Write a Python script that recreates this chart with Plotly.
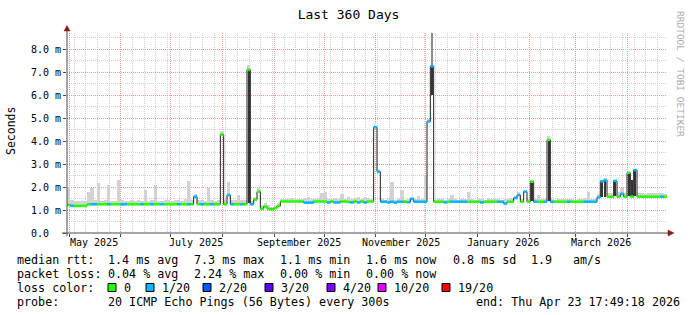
import numpy as np
import pandas as pd
import plotly.graph_objects as go

# ---------------- data ----------------
START = pd.Timestamp("2025-04-29 15:00")
END = pd.Timestamp("2026-04-24 15:00")
N_BINS = 180          # 2-day bins
BIN_DAYS = 2

# median round-trip time per bin (ms)
median_ms = [
    1.22, 1.18, 1.18, 1.18, 1.18, 1.18, 1.25, 1.25, 1.25, 1.25,
    1.25, 1.25, 1.25, 1.25, 1.25, 1.25, 1.25, 1.25, 1.25, 1.25,
    1.25, 1.25, 1.25, 1.25, 1.25, 1.25, 1.25, 1.25, 1.25, 1.25,
    1.25, 1.25, 1.25, 1.25, 1.25, 1.25, 1.25, 1.25, 1.58, 1.25,
    1.25, 1.25, 1.25, 1.25, 1.25, 1.25, 4.28, 1.25, 1.65, 1.25,
    1.25, 1.25, 1.25, 1.25, 7.10, 1.25, 1.45, 1.80, 1.05, 1.15,
    1.05, 1.03, 1.08, 1.17, 1.37, 1.37, 1.37, 1.37, 1.37, 1.37,
    1.37, 1.32, 1.32, 1.32, 1.37, 1.37, 1.37, 1.37, 1.33, 1.37,
    1.33, 1.33, 1.37, 1.37, 1.35, 1.33, 1.37, 1.33, 1.37, 1.33,
    1.37, 1.37, 4.60, 2.67, 1.36, 1.36, 1.33, 1.36, 1.32, 1.36,
    1.36, 1.36, 1.34, 1.48, 1.36, 1.36, 1.36, 1.36, 4.85, 7.25,
    1.36, 1.36, 1.36, 1.33, 1.36, 1.36, 1.36, 1.36, 1.36, 1.36,
    1.36, 1.36, 1.36, 1.36, 1.33, 1.36, 1.36, 1.36, 1.36, 1.36,
    1.36, 1.28, 1.36, 1.36, 1.52, 1.65, 1.36, 1.80, 1.36, 2.23,
    1.36, 1.36, 1.36, 1.36, 4.05, 1.36, 1.36, 1.36, 1.36, 1.36,
    1.36, 1.36, 1.36, 1.36, 1.36, 1.36, 1.36, 1.36, 1.36, 1.55,
    2.25, 2.30, 1.58, 1.58, 2.27, 1.58, 1.70, 1.58, 2.62, 1.58,
    2.74, 1.58, 1.58, 1.58, 1.58, 1.58, 1.58, 1.58, 1.58, 1.58,
]

# lost pings (of 20) per bin
loss_pings = [
    0, 1, 0, 0, 0, 0, 0, 1, 1, 0,
    0, 0, 1, 0, 0, 0, 1, 1, 0, 0,
    0, 0, 1, 0, 0, 1, 0, 0, 1, 0,
    0, 0, 0, 1, 0, 0, 1, 0, 1, 0,
    1, 0, 0, 1, 0, 0, 0, 0, 1, 1,
    0, 0, 1, 0, 0, 1, 0, 0, 0, 0,
    0, 0, 0, 0, 0, 0, 0, 0, 0, 0,
    0, 1, 1, 1, 0, 0, 0, 0, 1, 0,
    1, 1, 0, 0, 0, 1, 0, 1, 0, 1,
    0, 0, 1, 1, 1, 1, 1, 1, 1, 1,
    1, 0, 1, 1, 1, 1, 1, 1, 1, 1,
    0, 0, 0, 1, 0, 1, 1, 1, 1, 1,
    0, 0, 0, 0, 1, 0, 0, 0, 0, 1,
    1, 1, 0, 0, 1, 1, 0, 1, 0, 0,
    1, 0, 0, 1, 0, 1, 0, 0, 0, 0,
    1, 0, 0, 0, 0, 1, 1, 1, 1, 1,
    1, 1, 0, 0, 1, 0, 1, 0, 0, 0,
    1, 0, 0, 0, 0, 0, 0, 0, 1, 0,
]

# top of the grey "smoke" per bin (ms)
smoke_top_ms = [
    2.00, 1.45, 1.38, 1.38, 1.40, 1.38, 1.80, 1.95, 1.42, 2.17,
    1.40, 1.42, 2.10, 1.40, 1.38, 2.30, 1.42, 1.40, 1.38, 1.42,
    1.40, 1.45, 1.40, 1.87, 1.40, 1.42, 2.10, 1.40, 1.38, 1.45,
    1.42, 1.40, 1.45, 1.42, 1.40, 1.50, 2.26, 1.42, 1.70, 1.45,
    1.42, 1.40, 1.95, 1.45, 1.40, 1.42, 4.45, 1.45, 2.20, 1.45,
    1.42, 1.65, 1.45, 1.42, 7.30, 1.40, 1.55, 1.95, 1.20, 1.30,
    1.20, 1.15, 1.20, 1.30, 1.48, 1.50, 1.48, 1.52, 1.48, 1.50,
    1.48, 1.52, 1.55, 1.48, 1.50, 1.52, 1.75, 1.80, 1.50, 1.48,
    1.52, 1.50, 1.70, 1.48, 1.55, 1.50, 1.52, 1.57, 1.50, 1.55,
    1.52, 1.50, 4.70, 2.75, 1.48, 1.45, 1.50, 2.23, 1.45, 1.48,
    1.87, 1.45, 1.48, 1.55, 1.48, 1.60, 1.50, 2.50, 4.95, 7.30,
    1.45, 1.48, 1.50, 1.45, 1.48, 1.65, 1.48, 1.45, 1.50, 1.48,
    1.80, 1.48, 1.45, 1.50, 1.48, 1.45, 1.52, 1.48, 1.50, 1.48,
    1.45, 1.48, 1.50, 1.52, 1.60, 1.80, 1.50, 1.85, 1.48, 2.30,
    1.50, 1.65, 1.48, 1.50, 4.20, 1.48, 1.45, 1.50, 1.48, 1.50,
    1.48, 1.50, 1.45, 1.48, 1.50, 1.52, 1.80, 1.50, 1.48, 1.70,
    2.30, 2.40, 1.72, 1.75, 2.30, 1.80, 1.95, 1.72, 2.65, 1.75,
    2.80, 1.72, 1.75, 1.70, 1.72, 1.75, 1.72, 1.74, 1.72, 1.70,
]

# dense (dark) smoke at the spikes
dense_bins = [54, 109, 139, 144, 160, 161, 164, 168, 169, 170]
dense_lo_ms = [1.30, 6.00, 1.40, 1.40, 1.58, 1.58, 1.60, 1.60, 1.60, 1.60]
dense_hi_ms = [7.10, 7.30, 2.23, 4.05, 2.25, 2.30, 2.27, 2.62, 2.30, 2.74]

# medium-grey smoke above the largest spike
mid_bins = [109]
mid_lo_ms = [7.30]
mid_hi_ms = [8.70]

loss_thresholds = [0, 1, 2, 3, 4, 10, 19]
loss_labels = ["0", "1/20", "2/20", "3/20", "4/20", "10/20", "19/20"]
loss_colors = ["#26ff00", "#00b8ff", "#0059ff", "#5e00ff", "#7e00ff", "#dd00ff", "#ff0000"]

month_grid = pd.date_range("2025-05-01", "2026-04-01", freq="MS")
week_tick0 = "2025-05-04"
label_dates = ["2025-05-16", "2025-07-16", "2025-09-16", "2025-11-16", "2026-01-16", "2026-03-16"]
label_texts = ["May 2025", "July 2025", "September 2025", "November 2025", "January 2026", "March 2026"]

y_tickvals = [0, 1, 2, 3, 4, 5, 6, 7, 8]
y_ticktext = ["0.0\u00a0\u00a0", "1.0 m", "2.0 m", "3.0 m", "4.0 m", "5.0 m", "6.0 m", "7.0 m", "8.0 m"]
Y_MAX = 8.7

rtt_row = ["median rtt:", "1.4 ms avg", "7.3 ms max", "1.1 ms min", "1.6 ms now", "0.8 ms sd", "1.9", "am/s"]
loss_row = ["packet loss:", "0.04 % avg", "2.24 % max", "0.00 % min", "0.00 % now"]
probe_row = ["probe:", "20 ICMP Echo Pings (56 Bytes) every 300s", "end: Thu Apr 23 17:49:18 2026"]

# ---------------- layout helpers ----------------
FIG_W, FIG_H = 697, 315
L, T, W, H = 67, 33, 600, 200
MONO = "DejaVu Sans Mono"
DAY_MS = 86400000


def px(xp):
    return (xp - L) / W


def py(yp):
    return (T + H - yp) / H


bin_edges = pd.date_range(START, periods=N_BINS + 1, freq=f"{BIN_DAYS}D")
centers = bin_edges[:-1] + pd.Timedelta(days=BIN_DAYS / 2)
med = np.array(median_ms)
smoke_h = np.clip(np.array(smoke_top_ms) - med, 0, None)

fig = go.Figure()

# smoke
fig.add_trace(go.Bar(
    x=centers, y=smoke_h, base=med, width=BIN_DAYS * DAY_MS,
    marker=dict(color="#d2d2d2", line=dict(width=0)),
    hoverinfo="skip", showlegend=False))

m_lo = np.array(mid_lo_ms)
m_hi = np.array(mid_hi_ms)
fig.add_trace(go.Bar(
    x=centers[mid_bins], y=m_hi - m_lo, base=m_lo, width=1.2 * DAY_MS,
    marker=dict(color="#8c8c8c", line=dict(width=0)),
    hoverinfo="skip", showlegend=False))

d_lo = np.array(dense_lo_ms)
d_hi = np.array(dense_hi_ms)
fig.add_trace(go.Bar(
    x=centers[dense_bins], y=d_hi - d_lo, base=d_lo, width=1.2 * DAY_MS,
    marker=dict(color="#353535", line=dict(width=0)),
    hoverinfo="skip", showlegend=False))

# black median line
fig.add_trace(go.Scatter(
    x=list(bin_edges), y=median_ms + [median_ms[-1]], mode="lines",
    line=dict(color="#202020", width=1, shape="hv"),
    hoverinfo="skip", showlegend=False))


def loss_class(n):
    k = 0
    for i, t in enumerate(loss_thresholds):
        if n >= t:
            k = i
    return k


classes = [loss_class(n) for n in loss_pings]
for k, col in enumerate(loss_colors):
    xs, ys = [], []
    for i, c in enumerate(classes):
        if c == k:
            xs += [bin_edges[i], bin_edges[i + 1], None]
            ys += [median_ms[i], median_ms[i], None]
    if xs:
        fig.add_trace(go.Scatter(
            x=xs, y=ys, mode="lines", line=dict(color=col, width=2.6),
            hoverinfo="skip", showlegend=False))

GRID = "#cfcfcf"
MGRID = "#e99a9a"
AXIS = "#4a4a4a"
ARROW = "#8b1a1a"

fig.update_layout(
    width=FIG_W, height=FIG_H,
    margin=dict(l=L, r=FIG_W - L - W, t=T, b=FIG_H - T - H, pad=0),
    paper_bgcolor="white", plot_bgcolor="white",
    barmode="overlay", bargap=0,
    showlegend=False,
    title=dict(text="Last 360 Days", x=0.5, xref="container", xanchor="center",
               y=1 - 14 / FIG_H, yref="container", yanchor="middle",
               font=dict(family=MONO, size=13, color="#000")),
    xaxis=dict(
        type="date", range=[START, END],
        tickvals=list(month_grid), showticklabels=False,
        ticks="outside", ticklen=3, tickcolor=AXIS,
        showgrid=True, gridcolor=MGRID, griddash="1px,1px", gridwidth=1,
        minor=dict(dtick=7 * DAY_MS, tick0=week_tick0, showgrid=True,
                   gridcolor=GRID, griddash="1px,1px", gridwidth=1),
        showline=False, zeroline=False, fixedrange=True),
    yaxis=dict(
        range=[0, Y_MAX], tickvals=y_tickvals, ticktext=y_ticktext,
        ticks="outside", ticklen=3, tickcolor=AXIS,
        tickfont=dict(family=MONO, size=10, color="#000"),
        showgrid=True, gridcolor=MGRID, griddash="1px,1px", gridwidth=1,
        minor=dict(dtick=0.5, tick0=0, showgrid=True, gridcolor=GRID,
                   griddash="1px,1px", gridwidth=1),
        showline=False, zeroline=False, fixedrange=True),
)

shapes = [
    # axes
    dict(type="line", xref="paper", yref="paper", x0=px(62), x1=px(669), y0=py(233), y1=py(233),
         line=dict(color=AXIS, width=1), layer="above"),
    dict(type="line", xref="paper", yref="paper", x0=px(67), x1=px(67), y0=py(236), y1=py(30),
         line=dict(color=AXIS, width=1), layer="above"),
    # arrows
    dict(type="path", xref="paper", yref="paper",
         path=f"M {px(64)},{py(31)} L {px(70)},{py(31)} L {px(67)},{py(25.5)} Z",
         fillcolor=ARROW, line=dict(color=ARROW, width=0.5), layer="above"),
    dict(type="path", xref="paper", yref="paper",
         path=f"M {px(668)},{py(230)} L {px(668)},{py(236)} L {px(674)},{py(233)} Z",
         fillcolor=ARROW, line=dict(color=ARROW, width=0.5), layer="above"),
]

annotations = []


def txt(x, y, s, size=11.7, anchor="left", color="#000", angle=0, xref="paper"):
    annotations.append(dict(
        x=x, y=y, xref=xref, yref="paper", text=s.replace(" ", "\u00a0"),
        showarrow=False, xanchor=anchor, yanchor="middle", textangle=angle,
        borderpad=0, font=dict(family=MONO, size=size, color=color)))


# x labels (mid-month)
for d, s in zip(label_dates, label_texts):
    txt(d, py(242), s, size=10, anchor="center", xref="x")

# y title and watermark
txt(px(11), py(131), "Seconds", size=11.5, anchor="center", angle=-90)
txt(px(681), py(74), "RRDTOOL / TOBI OETIKER", size=9.5, anchor="center", color="#a8a8a8", angle=90)

# statistics rows
rtt_x = [16, 107, 193, 279, 365, 452, 530, 572]
for x, s in zip(rtt_x, rtt_row):
    txt(px(x), py(259.5), s)
loss_x = [16, 107, 193, 279, 365]
for x, s in zip(loss_x, loss_row):
    txt(px(x), py(273.5), s)

txt(px(16), py(287.5), "loss color:")
box_x = [108, 146, 203, 265, 327, 378, 442]
lab_x = [123, 161, 218, 280, 342, 393, 457]
for bx, lx, col, lab in zip(box_x, lab_x, loss_colors, loss_labels):
    shapes.append(dict(type="rect", xref="paper", yref="paper",
                       x0=px(bx), x1=px(bx + 8), y0=py(291.5), y1=py(283.5),
                       fillcolor=col, line=dict(color="#000", width=1), layer="above"))
    txt(px(lx), py(287.5), lab)

txt(px(16), py(301.5), probe_row[0])
txt(px(107), py(301.5), probe_row[1])
txt(px(681), py(301.5), probe_row[2], anchor="right")

fig.update_layout(shapes=shapes, annotations=annotations)

fig.write_html("out.html")
